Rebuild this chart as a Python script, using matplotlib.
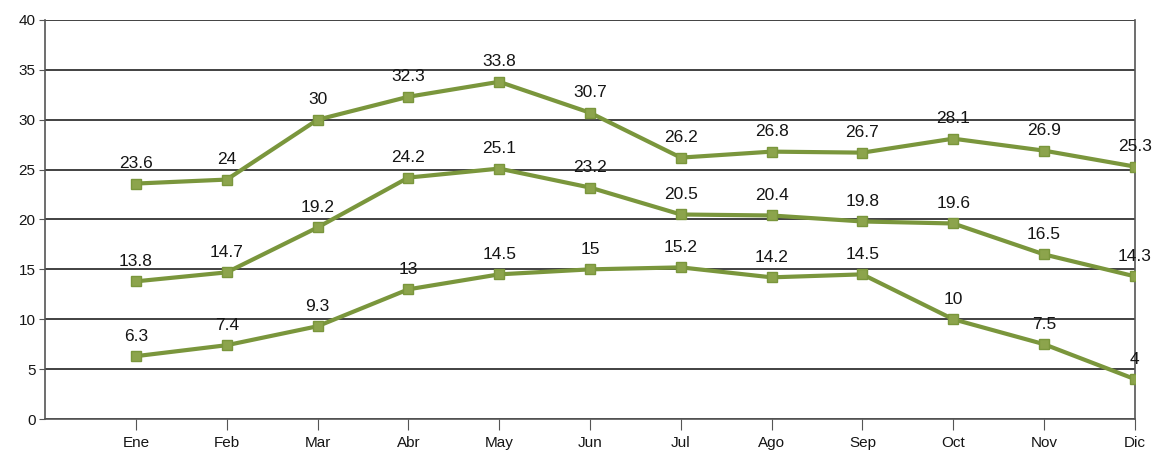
import matplotlib
matplotlib.use('Agg')
import matplotlib.pyplot as plt

plt.rcParams['font.family'] = ['Liberation Sans', 'DejaVu Sans']

months = ['Ene', 'Feb', 'Mar', 'Abr', 'May', 'Jun', 'Jul', 'Ago', 'Sep', 'Oct', 'Nov', 'Dic']
high = [23.6, 24, 30, 32.3, 33.8, 30.7, 26.2, 26.8, 26.7, 28.1, 26.9, 25.3]
mid = [13.8, 14.7, 19.2, 24.2, 25.1, 23.2, 20.5, 20.4, 19.8, 19.6, 16.5, 14.3]
low = [6.3, 7.4, 9.3, 13, 14.5, 15, 15.2, 14.2, 14.5, 10, 7.5, 4]
yticks = [0, 5, 10, 15, 20, 25, 30, 35, 40]

fig = plt.figure(figsize=(11.58, 4.53), dpi=100)
ax = fig.add_axes([0.039, 0.075, 0.941, 0.881])

xs = list(range(len(months)))
for series in (high, mid, low):
    ax.plot(xs, series, color='#7a963c', lw=3, marker='s', ms=7,
            markerfacecolor='#8ca44c', markeredgecolor='#7a963c', zorder=3)
    for x, v in zip(xs, series):
        ax.annotate(f'{v:g}', (x, v), xytext=(0, 9), textcoords='offset points',
                    ha='center', va='bottom', fontsize=12.5, color='#151515')

ax.set_xlim(-1, 11)
ax.set_ylim(0, 40)
ax.set_xticks(xs)
ax.set_xticklabels(months, fontsize=11)
ax.set_yticks(yticks)
ax.set_yticklabels([str(t) for t in yticks], fontsize=11)
ax.yaxis.grid(True, color='#333333', lw=1.3)
ax.set_axisbelow(True)
for s in ('left', 'right', 'bottom'):
    ax.spines[s].set_color('#555555')
    ax.spines[s].set_linewidth(1.2)
ax.spines['top'].set_visible(False)
ax.tick_params(axis='both', direction='out', color='#555555', labelcolor='#151515')
ax.tick_params(axis='x', length=8, pad=4)
ax.tick_params(axis='y', length=4, pad=3)

fig.savefig('out.png', dpi=100)
